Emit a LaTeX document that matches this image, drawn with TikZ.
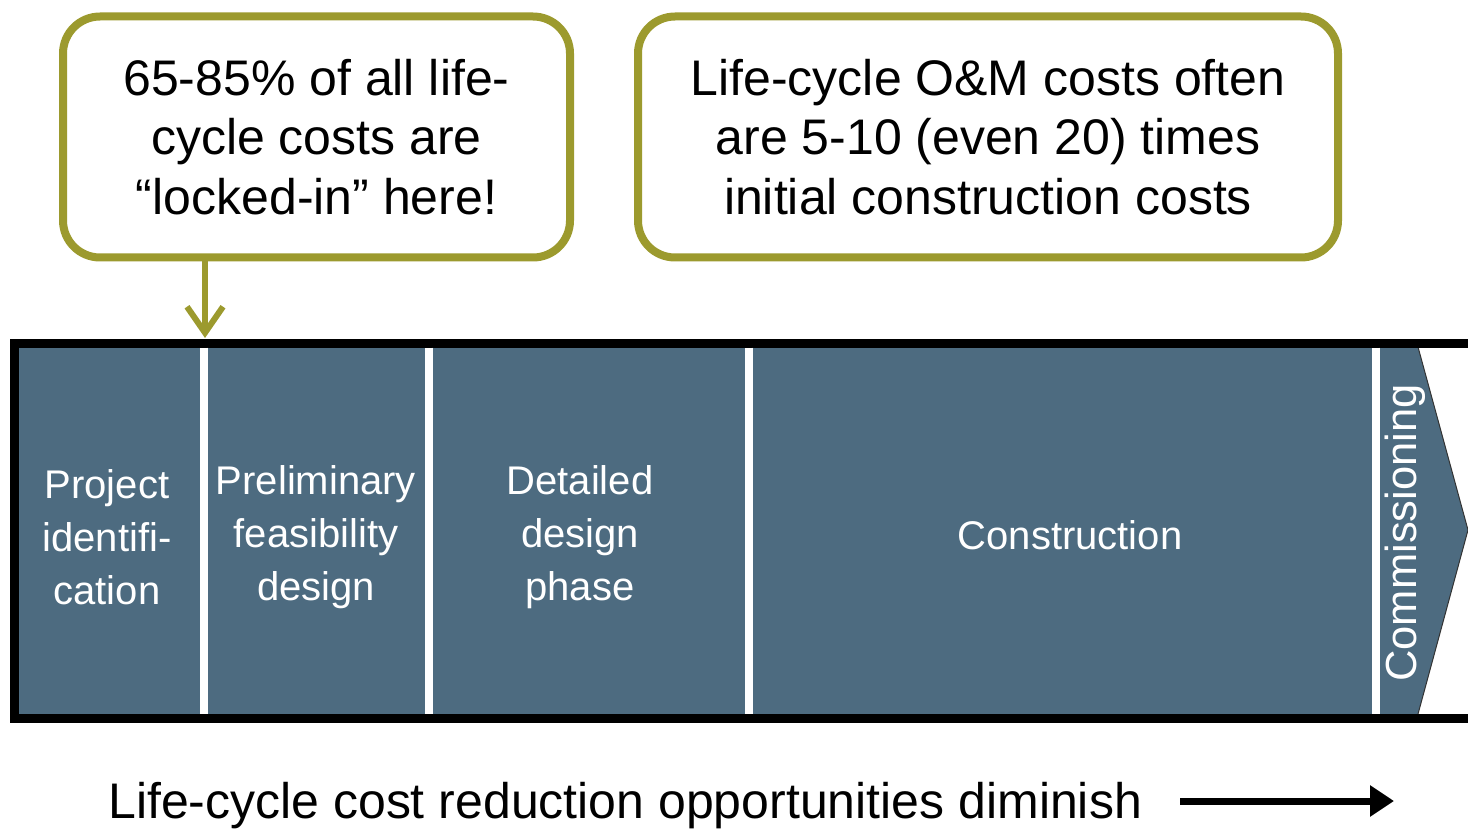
\documentclass[tikz,border=0pt]{standalone}
\usepackage{fontspec}
\setmainfont{Liberation Sans}
\usetikzlibrary{arrows.meta}
\definecolor{phaseblue}{HTML}{4D6B80}
\definecolor{olivegreen}{HTML}{9C9A2E}
\begin{document}
\begin{tikzpicture}[x=1pt,y=-1pt,
  callout/.style={draw=olivegreen, line width=8pt, rounded corners=37pt,
    fill=white, align=center, inner sep=0pt,
    font=\fontsize{50}{59.5}\selectfont},
  phaselabel/.style={text=white, align=center, inner sep=0pt,
    font=\fontsize{40}{53}\selectfont},
  divider/.style={draw=white, line width=8pt}]
\useasboundingbox (0,0) rectangle (1468,829);

% call-out boxes
\node[callout, minimum width=507pt, minimum height=241pt] (lockbox) at (316.5,137)
  {65-85\% of all life-\\cycle costs are\\“locked-in” here!};
\node[callout, minimum width=700pt, minimum height=241pt] (ombox) at (988,137)
  {Life-cycle O\&M costs often\\are 5-10 (even 20) times\\initial construction costs};

% phase band with chevron end
\fill[phaseblue] (19,347) -- (1418,347) -- (1468,530) -- (1418,714) -- (19,714) -- cycle;
\draw[black!80, line width=1pt] (1418,347) -- (1468,530) -- (1418,714);

% black frame, open on the right
\draw[black, line width=9pt, line join=miter] (1468,343) -- (14,343) -- (14,718) -- (1468,718);

% white dividers between phases
\foreach \xx in {204,429,749,1376}
  \draw[divider] (\xx,347.5) -- (\xx,713.5);

% phase names
\node[phaselabel] (p1) at (107,537) {Project\\identifi-\\cation};
\node[phaselabel] (p2) at (316,537) {Preliminary\\feasibility\\design};
\node[phaselabel] (p3) at (580,537) {Detailed\\design\\phase};
\node[phaselabel] (p4) at (1070,535) {Construction};
\node[phaselabel, rotate=90, font=\fontsize{43.5}{50}\selectfont] (p5) at (1405,533) {Commissioning};

% pointer from the first call-out to the band
\coordinate (lockin) at (205,338);
\draw[olivegreen, line width=6pt, -{Straight Barb[length=26pt,width=36pt]}]
  (lockbox.south -| lockin) -- (lockin);

% caption with arrow
\node[inner sep=0pt, font=\fontsize{50}{60}\selectfont, anchor=base west] (caption) at (108,818)
  {Life-cycle cost reduction opportunities diminish};
\coordinate (captionend) at (1394,801);
\draw[black, line width=7pt, -{Triangle[length=24pt,width=30pt]}]
  (captionend -| 1180,0) -- (captionend);
\end{tikzpicture}
\end{document}
